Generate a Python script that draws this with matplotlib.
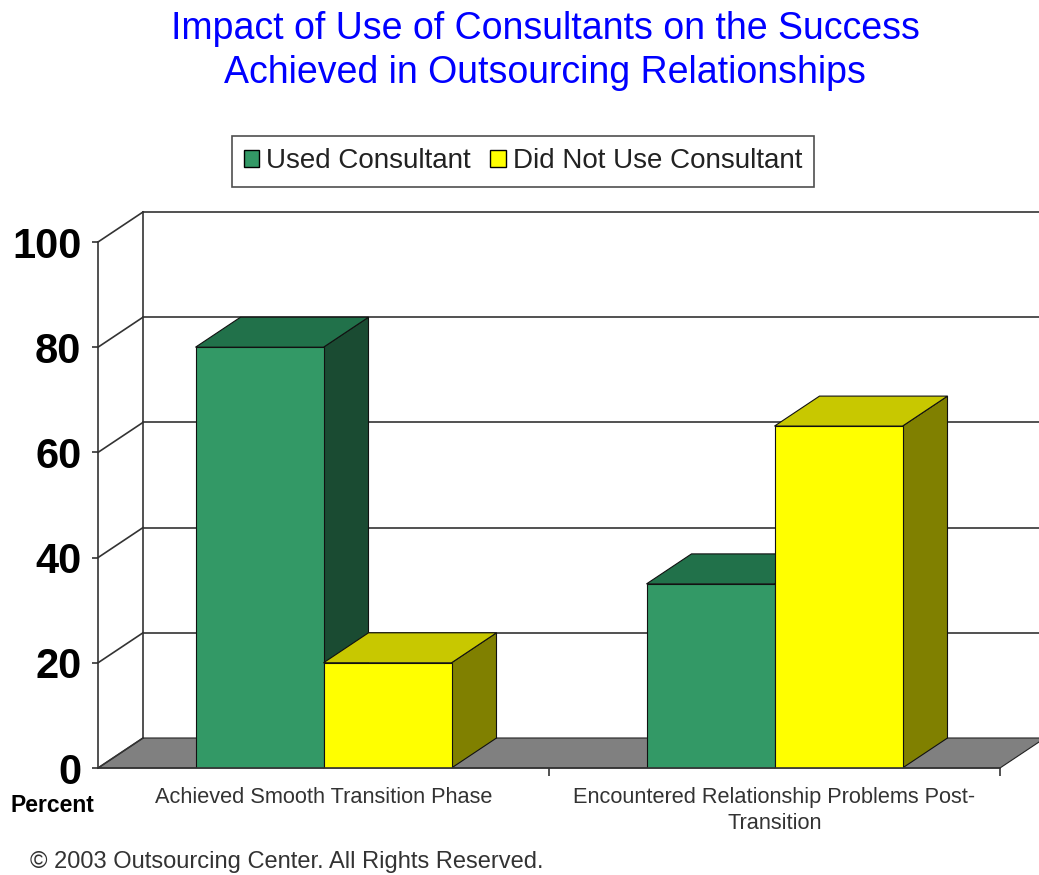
import numpy as np
import matplotlib
matplotlib.use('Agg')
import matplotlib.pyplot as plt
from matplotlib.patches import Polygon, Patch

plt.rcParams['font.family'] = ['Liberation Sans', 'DejaVu Sans']

# ---------------- data ----------------
categories = ['Achieved Smooth Transition Phase',
              'Encountered Relationship Problems Post-\nTransition']
series_names = ['Used Consultant', 'Did Not Use Consultant']
used_consultant = [80, 35]   # percent
did_not_use = [20, 65]       # percent
yticks = [0, 20, 40, 60, 80, 100]

# colours (front, top, side)
green = ['#339966', '#21714a', '#1a4b32']
yellow = ['#ffff00', '#c8c800', '#808000']

# ---------------- figure ----------------
W, H = 1039, 875
fig = plt.figure(figsize=(W/100, H/100), dpi=100)
ax = fig.add_axes([98/W, 107/H, 902/W, 526/H])
ax.set_xlim(-0.5, 1.5)
ax.set_ylim(0, 100)
ax.patch.set_visible(False)

# depth offset of the 3d look (pixels -> data units)
px_per_x = 902/2.0
px_per_y = 526/100.0
DX = 45/px_per_x
DY = 30/px_per_y

# floor
floor = Polygon([(-0.5, 0), (-0.5+DX, DY), (1.5+DX, DY), (1.5, 0)],
                closed=True, fc='#808080', ec='#222222', lw=0.8,
                clip_on=False, zorder=1)
ax.add_patch(floor)

# back wall: left edge, gridlines and the diagonals to the front axis
ax.plot([-0.5+DX, -0.5+DX], [DY, 100+DY], color='#333333', lw=1.2,
        clip_on=False, zorder=2)
for t in yticks:
    ax.plot([-0.5, -0.5+DX], [t, t+DY], color='#333333', lw=1.2,
            clip_on=False, zorder=2)
    if t > 0:
        ax.plot([-0.5+DX, 1.5+DX], [t+DY, t+DY], color='#333333', lw=1.2,
                clip_on=False, zorder=2)

# bars (front faces through ax.bar, top and side added from the patches)
x = np.arange(len(categories))
w = 128/px_per_x
b1 = ax.bar(x - w/2, used_consultant, w, color=green[0], edgecolor='#111111',
            lw=0.8, label=series_names[0])
b2 = ax.bar(x + w/2, did_not_use, w, color=yellow[0], edgecolor='#111111',
            lw=0.8, label=series_names[1])

order = []
for i in range(len(categories)):
    order.append((b1.patches[i], green))
    order.append((b2.patches[i], yellow))

for k, (p, cols) in enumerate(order):
    x0 = p.get_x()
    x1 = x0 + p.get_width()
    v = p.get_height()
    side = Polygon([(x1, 0), (x1+DX, DY), (x1+DX, v+DY), (x1, v)], closed=True,
                   fc=cols[2], ec='#111111', lw=0.8, clip_on=False, zorder=3+2*k)
    top = Polygon([(x0, v), (x1, v), (x1+DX, v+DY), (x0+DX, v+DY)], closed=True,
                  fc=cols[1], ec='#111111', lw=0.8, clip_on=False, zorder=3+2*k)
    ax.add_patch(side)
    ax.add_patch(top)
    p.set_zorder(4+2*k)

# axes lines and ticks
for s in ['top', 'right']:
    ax.spines[s].set_visible(False)
for s in ['left', 'bottom']:
    ax.spines[s].set_color('#333333')
    ax.spines[s].set_linewidth(1.2)
    ax.spines[s].set_zorder(20)

ax.set_yticks(yticks)
ax.set_yticklabels([str(t) for t in yticks], fontweight='bold')
ax.tick_params(axis='y', length=4, width=1.2, color='#333333', pad=8,
               labelsize=30)

ax.set_xticks(x)
ax.set_xticklabels(categories, fontsize=15.7, color='#333333', linespacing=1.3)
ax.tick_params(axis='x', which='major', length=0, pad=14)
ax.set_xticks([0.5, 1.5], minor=True)
ax.tick_params(axis='x', which='minor', length=6, width=1.2, color='#333333')

# legend
leg = fig.legend(handles=[Patch(fc=green[0], ec='black'), Patch(fc=yellow[0], ec='black')],
                 labels=series_names, loc='center', bbox_to_anchor=(523/W, 1-161/H),
                 ncol=2, fontsize=20, frameon=True, fancybox=False, edgecolor='#222222',
                 handlelength=0.55, handleheight=0.55, handletextpad=0.25,
                 columnspacing=0.7, borderpad=0.45, borderaxespad=0)
leg.get_frame().set_linewidth(1.2)
for txt in leg.get_texts():
    txt.set_color('#222222')

# texts
fig.text(545/W, 1-51/H, 'Impact of Use of Consultants on the Success\nAchieved in Outsourcing Relationships',
         ha='center', va='center', fontsize=27, color='#0000ff', linespacing=1.3)
fig.text(10/W, 1-805/H, 'Percent', fontweight='bold', fontsize=16.5, va='center')
fig.text(30/W, 1-862/H, '\u00a9 2003 Outsourcing Center. All Rights Reserved.',
         fontsize=17, va='center', color='#333333')

fig.savefig('out.png', dpi=100)
